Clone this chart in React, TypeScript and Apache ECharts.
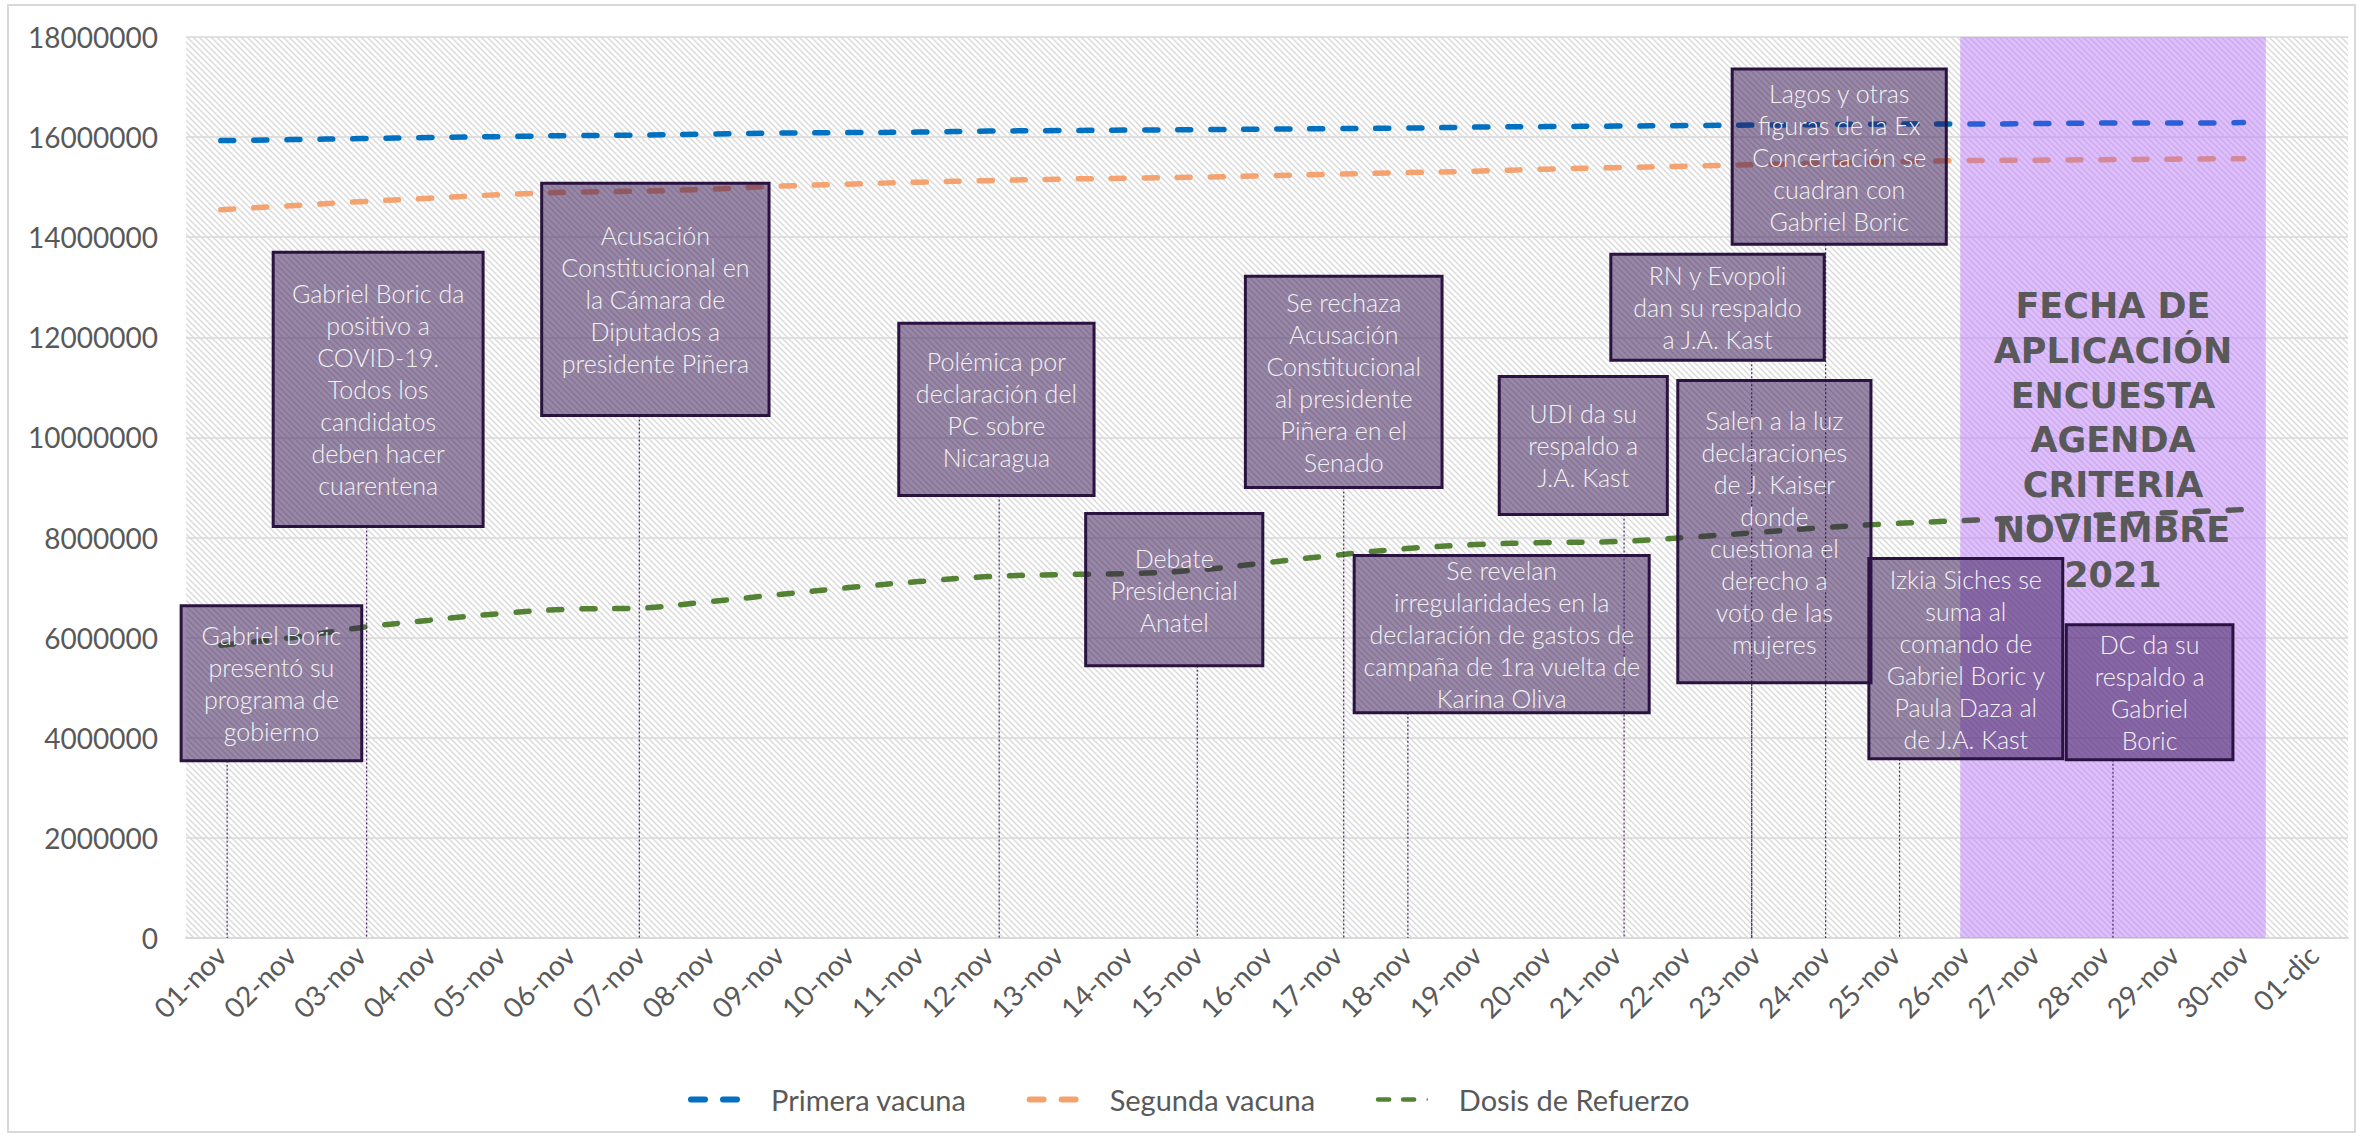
import React, { useEffect, useRef } from 'react';
import * as echarts from 'echarts';

// ---------- DATA ----------
const categories = [
  '01-nov', '02-nov', '03-nov', '04-nov', '05-nov', '06-nov', '07-nov', '08-nov', '09-nov', '10-nov',
  '11-nov', '12-nov', '13-nov', '14-nov', '15-nov', '16-nov', '17-nov', '18-nov', '19-nov', '20-nov',
  '21-nov', '22-nov', '23-nov', '24-nov', '25-nov', '26-nov', '27-nov', '28-nov', '29-nov', '30-nov', '01-dic',
];

const primeraVacuna = [
  15930000, 15950000, 15970000, 15990000, 16010000, 16030000, 16040000, 16060000, 16080000, 16090000,
  16100000, 16120000, 16130000, 16140000, 16150000, 16160000, 16170000, 16180000, 16200000, 16210000,
  16220000, 16230000, 16240000, 16250000, 16260000, 16260000, 16270000, 16280000, 16280000, 16290000,
];

const segundaVacuna = [
  14550000, 14630000, 14710000, 14780000, 14850000, 14900000, 14920000, 14960000, 15020000, 15060000,
  15100000, 15130000, 15160000, 15180000, 15200000, 15230000, 15260000, 15290000, 15320000, 15360000,
  15390000, 15420000, 15450000, 15480000, 15510000, 15530000, 15540000, 15550000, 15560000, 15570000,
];

const dosisRefuerzo = [
  5850000, 6000000, 6200000, 6350000, 6480000, 6570000, 6590000, 6720000, 6860000, 7000000,
  7120000, 7220000, 7260000, 7280000, 7350000, 7500000, 7650000, 7780000, 7860000, 7900000,
  7920000, 8000000, 8100000, 8200000, 8280000, 8340000, 8400000, 8450000, 8500000, 8560000,
];

const seriesNames = ['Primera vacuna', 'Segunda vacuna', 'Dosis de Refuerzo'];

const eventDates = [
  '01-nov', '03-nov', '07-nov', '12-nov', '15-nov', '17-nov', '18-nov',
  '21-nov', '23-nov', '23-nov', '24-nov', '25-nov', '28-nov',
];

const eventTexts = [
  'Gabriel Boric\npresentó su\nprograma de\ngobierno',
  'Gabriel Boric da\npositivo a\nCOVID-19.\nTodos los\ncandidatos\ndeben hacer\ncuarentena',
  'Acusación\nConstitucional en\nla Cámara de\nDiputados a\npresidente Piñera',
  'Polémica por\ndeclaración del\nPC sobre\nNicaragua',
  'Debate\nPresidencial\nAnatel',
  'Se rechaza\nAcusación\nConstitucional\nal presidente\nPiñera en el\nSenado',
  'Se revelan\nirregularidades en la\ndeclaración de gastos de\ncampaña de 1ra vuelta de\nKarina Oliva',
  'UDI da su\nrespaldo a\nJ.A. Kast',
  'RN y Evopoli\ndan su respaldo\na J.A. Kast',
  'Salen a la luz\ndeclaraciones\nde J. Kaiser\ndonde\ncuestiona el\nderecho a\nvoto de las\nmujeres',
  'Lagos y otras\nfiguras de la Ex\nConcertación se\ncuadran con\nGabriel Boric',
  'Izkia Siches se\nsuma al\ncomando de\nGabriel Boric y\nPaula Daza al\nde J.A. Kast',
  'DC da su\nrespaldo a\nGabriel\nBoric',
];

const surveyText = 'FECHA DE\nAPLICACIÓN\nENCUESTA\nAGENDA\nCRITERIA\nNOVIEMBRE\n2021';

// ---------- LAYOUT (annotation placement, in axis units) ----------
// [leader offset from date, box left, box right, box top value, box bottom value]
const eventBoxLayout = [
  [0.09, -0.57, 2.02, 6640000, 3540000],
  [0.09, 0.75, 3.76, 13700000, 8220000],
  [0.0, 4.6, 7.86, 15080000, 10440000],
  [0.16, 9.72, 12.52, 12280000, 8840000],
  [0.0, 12.4, 14.94, 8480000, 5440000],
  [0.1, 14.69, 17.51, 13220000, 9000000],
  [0.02, 16.25, 20.48, 7640000, 4500000],
  [0.12, 18.33, 20.74, 11220000, 8460000],
  [-0.05, 19.93, 22.99, 13660000, 11540000],
  [-0.05, 20.89, 23.66, 11140000, 5100000],
  [0.01, 21.67, 24.74, 17360000, 13860000],
  [0.07, 23.63, 26.41, 7580000, 3580000],
  [0.13, 26.46, 28.85, 6260000, 3560000],
];
const BAND_START = 24.94;
const BAND_END = 29.32;
const BAND_TEXT_Y = 9940000;

const baseColors = ['#0070C0', '#F4A370', '#548235'];
const bandColors = ['#2B5FD7', '#D68896', '#5A5A5A'];
const legendIcons = [
  'path://M3,0 H17 A3,3 0 0 1 17,6 H3 A3,3 0 0 1 3,0 Z M35,0 H49 A3,3 0 0 1 49,6 H35 A3,3 0 0 1 35,0 Z',
  'path://M3,0 H17 A3,3 0 0 1 17,6 H3 A3,3 0 0 1 3,0 Z M35,0 H49 A3,3 0 0 1 49,6 H35 A3,3 0 0 1 35,0 Z',
  'path://M3,0 H17 A3,3 0 0 1 17,6 H3 A3,3 0 0 1 3,0 Z M35,0 H49 A3,3 0 0 1 49,6 H35 A3,3 0 0 1 35,0 Z M65,1.5 H66.5 V4.5 H65 Z',
];

function makeHatch() {
  const s = 6;
  const c = document.createElement('canvas');
  c.width = s;
  c.height = s;
  const ctx = c.getContext('2d')!;
  ctx.fillStyle = '#ffffff';
  ctx.fillRect(0, 0, s, s);
  ctx.strokeStyle = '#D9D9D9';
  ctx.lineWidth = 1.4;
  ctx.beginPath();
  for (const o of [-s, 0, s]) {
    ctx.moveTo(o - 1, -1);
    ctx.lineTo(o + s + 1, s + 1);
  }
  ctx.stroke();
  return { image: c.toDataURL(), repeat: 'repeat', imageWidth: s, imageHeight: s };
}

export default function App() {
  const ref = useRef<HTMLDivElement>(null);

  useEffect(() => {
    if (!ref.current) return;
    const chart = echarts.init(ref.current, null, { renderer: 'svg' });
    const font = 'Lato, "Open Sans", sans-serif';

    const eventData = eventDates.map((d, i) => {
      const L = eventBoxLayout[i];
      return [categories.indexOf(d) + L[0], L[1], L[2], L[3], L[4]];
    });

    const lineSeries = [primeraVacuna, segundaVacuna, dosisRefuerzo].map((arr, i) => ({
      name: seriesNames[i],
      type: 'line',
      data: arr,
      xAxisIndex: 0,
      yAxisIndex: 0,
      symbol: 'none',
      showSymbol: false,
      smooth: 0.4,
      z: 2,
      lineStyle: { color: baseColors[i], width: 5.5, type: [13, 20], cap: 'round' },
      itemStyle: { color: baseColors[i] },
    }));

    const option: any = {
      animation: false,
      backgroundColor: '#ffffff',
      graphic: [
        {
          type: 'rect',
          silent: true,
          z: -10,
          shape: { x: 8, y: 5, width: 2347, height: 1127 },
          style: { fill: 'none', stroke: '#D9D9D9', lineWidth: 2 },
        },
      ],
      grid: {
        left: 186,
        right: 14,
        top: 37,
        bottom: 200,
        show: true,
        borderWidth: 0,
        backgroundColor: makeHatch(),
      },
      legend: {
        left: 683,
        top: 1080,
        itemGap: 60,
        textStyle: { fontSize: 29, color: '#595959', fontFamily: font, padding: [0, 0, 0, 26] },
        data: seriesNames.map((n, i) => ({
          name: n,
          icon: legendIcons[i],
          itemStyle: { color: baseColors[i] },
        })),
        itemWidth: 52,
        itemHeight: 6,
      },
      xAxis: [
        {
          type: 'category',
          data: categories,
          boundaryGap: true,
          axisLine: { lineStyle: { color: '#D9D9D9', width: 2 } },
          axisTick: { show: false },
          axisLabel: {
            interval: 0,
            rotate: 45,
            margin: 12,
            fontSize: 28,
            color: '#595959',
            fontFamily: font,
          },
          splitLine: { show: false },
        },
        {
          type: 'value',
          min: -0.5,
          max: 30.5,
          show: false,
          splitLine: { show: false },
        },
      ],
      yAxis: {
        type: 'value',
        min: 0,
        max: 18000000,
        interval: 2000000,
        axisLine: { show: false },
        axisTick: { show: false },
        axisLabel: {
          margin: 28,
          fontSize: 28,
          color: '#595959',
          fontFamily: font,
          formatter: (v: number) => String(v),
        },
        splitLine: { lineStyle: { color: '#D9D9D9', width: 1.5 } },
      },
      series: [
        ...lineSeries,
        {
          name: 'band',
          type: 'custom',
          xAxisIndex: 1,
          yAxisIndex: 0,
          z: 1,
          silent: true,
          encode: { x: [0, 1] },
          data: [[BAND_START, BAND_END]],
          renderItem: (params: any, api: any) => {
            const p0 = api.coord([api.value(0), 18000000]);
            const p1 = api.coord([api.value(1), 0]);
            return {
              type: 'rect',
              shape: { x: p0[0], y: p0[1], width: p1[0] - p0[0], height: p1[1] - p0[1] },
              style: { fill: 'rgba(190,125,250,0.5)' },
            };
          },
        },
        {
          name: 'bandText',
          type: 'custom',
          xAxisIndex: 1,
          yAxisIndex: 0,
          z: 4,
          silent: true,
          encode: { x: 0, y: 1 },
          data: [[(BAND_START + BAND_END) / 2, BAND_TEXT_Y]],
          renderItem: (params: any, api: any) => {
            const p = api.coord([api.value(0), api.value(1)]);
            return {
              type: 'text',
              x: p[0],
              y: p[1],
              style: {
                text: surveyText,
                fill: '#595959',
                fontSize: 35,
                fontWeight: 'bold',
                fontFamily: '"DejaVu Sans", sans-serif',
                align: 'center',
                verticalAlign: 'middle',
                lineHeight: 44.7,
              },
            };
          },
        },
        {
          name: 'events',
          type: 'custom',
          xAxisIndex: 1,
          yAxisIndex: 0,
          z: 5,
          silent: true,
          encode: { x: [0, 1, 2], y: [3, 4] },
          data: eventData,
          renderItem: (params: any, api: any) => {
            const i = params.dataIndex;
            const lx = api.value(0);
            const l = api.value(1);
            const r = api.value(2);
            const t = api.value(3);
            const b = api.value(4);
            const p0 = api.coord([l, t]);
            const p1 = api.coord([r, b]);
            const lt = api.coord([lx, b]);
            const lb = api.coord([lx, 0]);
            return {
              type: 'group',
              children: [
                {
                  type: 'line',
                  z2: 1,
                  shape: { x1: lt[0], y1: lt[1], x2: lb[0], y2: lb[1] },
                  style: { stroke: '#4A2A66', lineWidth: 1.2, lineDash: [2, 2] },
                },
                {
                  type: 'rect',
                  z2: 2,
                  shape: { x: p0[0], y: p0[1], width: p1[0] - p0[0], height: p1[1] - p0[1] },
                  style: { fill: 'rgba(50,15,80,0.5)', stroke: '#2A1340', lineWidth: 3 },
                },
                {
                  type: 'text',
                  z2: 3,
                  x: (p0[0] + p1[0]) / 2,
                  y: (p0[1] + p1[1]) / 2,
                  style: {
                    text: eventTexts[i],
                    fill: '#F2F2F2',
                    fontSize: 25,
                    fontWeight: 300,
                    fontFamily: font,
                    align: 'center',
                    verticalAlign: 'middle',
                    lineHeight: 32,
                  },
                },
              ],
            };
          },
        },
      ],
    };

    chart.setOption(option);

    // recolour the line segments that fall inside the survey band
    const bandPx = chart.convertToPixel({ xAxisIndex: 1 }, BAND_START) as number;
    const width = chart.getWidth();
    const off = Math.min(Math.max(bandPx / width, 0), 1);
    chart.setOption({
      series: baseColors.map((c, i) => ({
        lineStyle: {
          color: {
            type: 'linear',
            x: 0,
            y: 0,
            x2: width,
            y2: 0,
            global: true,
            colorStops: [
              { offset: 0, color: c },
              { offset: off, color: c },
              { offset: off, color: bandColors[i] },
              { offset: 1, color: bandColors[i] },
            ],
          },
        },
      })),
    });

    return () => {
      chart.dispose();
    };
  }, []);

  return (
    <div
      ref={ref}
      style={{ position: 'fixed', left: 0, top: 0, width: 2362, height: 1138, background: '#ffffff' }}
    />
  );
}
